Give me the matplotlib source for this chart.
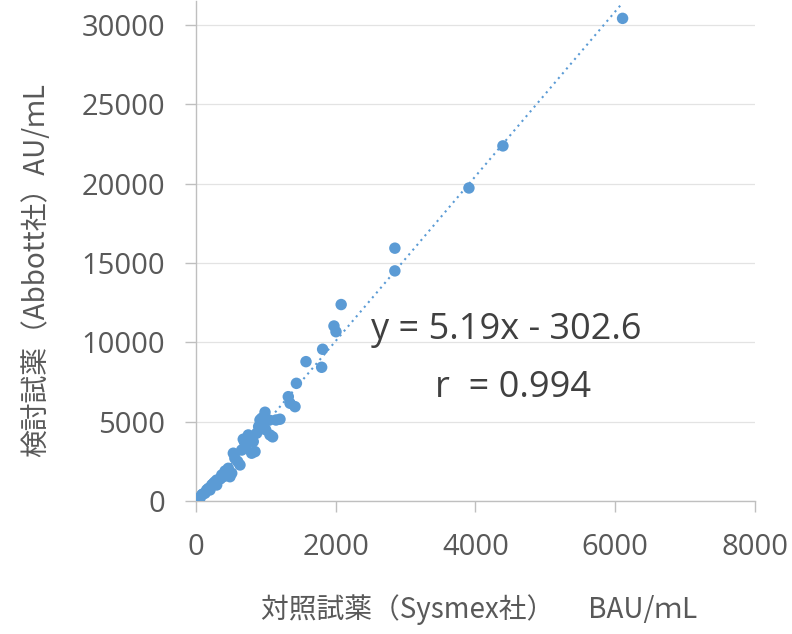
import matplotlib
matplotlib.use("Agg")
import matplotlib.pyplot as plt
import numpy as np

# Data (Sysmex BAU/mL vs Abbott AU/mL)
x_vals = [6104, 4393, 3907, 2848, 2848, 2080, 1977, 2006, 1815, 1577, 1801,
          1440, 1324, 1349, 1420, 1205, 1148, 991, 943, 919, 1062, 1100, 872,
          752, 823, 848, 800, 658, 538, 633, 600, 515, 466, 490, 395, 372, 300,
          300, 250, 229, 204, 157, 133, 100, 86, 61, 37, 700, 720, 900, 950,
          1000, 560, 420, 350, 180, 270, 1050, 680]
y_vals = [30400, 22370, 19720, 15930, 14500, 12380, 11030, 10670, 9565, 8785,
          8430, 7420, 6580, 6165, 5950, 5160, 5110, 5600, 5220, 5110, 4170,
          4050, 4280, 4170, 3750, 3120, 3020, 3220, 3020, 2280, 2500, 1760,
          2070, 1540, 1540, 1650, 1330, 1020, 1100, 1020, 705, 705, 500, 450,
          390, 180, 180, 3700, 3500, 4700, 4900, 4500, 2700, 1900, 1400, 800,
          1200, 5100, 3900]
slope = 5.19
intercept = -302.6
x_ticks = [0, 2000, 4000, 6000, 8000]
y_ticks = [0, 5000, 10000, 15000, 20000, 25000, 30000]
eq_text = "y = 5.19x - 302.6"
r_text = "r  = 0.994"
x_label = "対照試薬（Sysmex社）　 BAU/ｍL"
y_label = "検討試薬（Abbott社）AU/ｍL"

blue = "#5B9BD5"
tick_col = "#595959"
grid_col = "#E3E3E3"
axis_col = "#BFBFBF"

fig = plt.figure(figsize=(7.92, 6.34), dpi=100)
ax = fig.add_axes([0.2471, 0.2095, 0.9535 - 0.2471, 0.9986 - 0.2095])

ax.scatter(x_vals, y_vals, s=68, color=blue, edgecolors="none", zorder=3)
tx = np.array([min(x_vals), max(x_vals)])
ax.plot(tx, slope * tx + intercept, linestyle=(0, (1, 2)), color=blue, lw=1.5, zorder=2)

ax.set_xlim(0, 8000)
ax.set_ylim(0, 31500)
ax.set_xticks(x_ticks)
ax.set_yticks(y_ticks)
ax.set_xticklabels([str(v) for v in x_ticks])
ax.set_yticklabels([str(v) for v in y_ticks])
for s in ["top", "right"]:
    ax.spines[s].set_visible(False)
for s in ["left", "bottom"]:
    ax.spines[s].set_color(axis_col)
    ax.spines[s].set_linewidth(1.0)
ax.yaxis.grid(True, color=grid_col, lw=0.9)
ax.set_axisbelow(True)
ax.tick_params(axis="both", direction="out", length=8, width=1.0, color=axis_col,
               labelcolor=tick_col, labelsize=21)
ax.tick_params(axis="y", pad=14)
ax.tick_params(axis="x", pad=15)
for lab in ax.get_xticklabels() + ax.get_yticklabels():
    lab.set_family(["Open Sans", "DejaVu Sans"])

ax.text(506 / 792, 1 - 330 / 634, eq_text, transform=fig.transFigure, ha="center",
        va="center", fontsize=26, color="#404040", family=["Open Sans", "DejaVu Sans"])
ax.text(513 / 792, 1 - 388 / 634, r_text, transform=fig.transFigure, ha="center",
        va="center", fontsize=26, color="#404040", family=["Open Sans", "DejaVu Sans"])

fig.text(479 / 792, 1 - 610 / 634, x_label, ha="center", va="center", fontsize=20,
         color=tick_col, family=["Noto Sans CJK JP", "DejaVu Sans"])
fig.text(36 / 792, 1 - 270 / 634, y_label, ha="center", va="center", rotation=90,
         fontsize=20, color=tick_col, family=["Noto Sans CJK JP", "DejaVu Sans"])

fig.savefig("out.png", dpi=100)
